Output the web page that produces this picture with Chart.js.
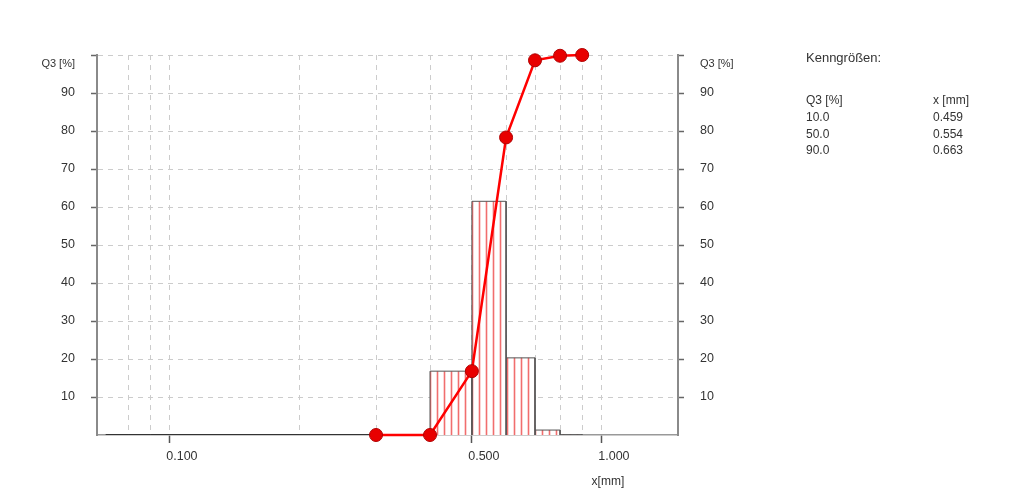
<!DOCTYPE html>
<html><head><meta charset="utf-8">
<script src="https://cdn.jsdelivr.net/npm/chart.js@4/dist/chart.umd.min.js"></script>
<style>html,body{margin:0;padding:0;background:#fff;overflow:hidden}#wrap{width:1020px;height:503px;position:relative}</style>
</head><body><div id="wrap"><canvas id="c" width="1020" height="503"></canvas></div>
<script>
// ---- data ----
const binEdges  = [0.071, 0.08, 0.09, 0.1, 0.2, 0.3, 0.4, 0.5, 0.6, 0.7, 0.8, 0.9];
const binValues = [0, 0, 0, 0, 0, 0, 16.8, 61.5, 20.3, 1.3, 0.1];
const cumX  = [0.3, 0.4, 0.5, 0.6, 0.7, 0.8, 0.9];
const cumQ3 = [0, 0, 16.8, 78.3, 98.6, 99.8, 100];
const xGridTicks = [0.08, 0.09, 0.1, 0.2, 0.3, 0.4, 0.5, 0.6, 0.7, 0.8, 0.9, 1.0];
const xLabelValues = [0.1, 0.5, 1.0];
const xLabelTexts  = ['0.100', '0.500', '1.000'];
const yMin = 0, yMax = 100, yStep = 10;
const yAxisTitle = 'Q3 [%]';
const xAxisTitle = 'x[mm]';
const kennTitle = 'Kenngrößen:';
const kennHeader = ['Q3 [%]', 'x [mm]'];
const kennQ3 = ['10.0', '50.0', '90.0'];
const kennX  = ['0.459', '0.554', '0.663'];

const FONT = '"Liberation Sans", Arial, Helvetica, sans-serif';
const TEXT = '#333';

// hatch pattern for histogram bars
const pc = document.createElement('canvas'); pc.width = 7; pc.height = 7;
const pctx = pc.getContext('2d');
pctx.fillStyle = '#fff'; pctx.fillRect(0, 0, 7, 7);
pctx.strokeStyle = 'rgba(238,85,85,0.85)'; pctx.lineWidth = 1.6;
pctx.beginPath(); pctx.moveTo(3.5, 0); pctx.lineTo(3.5, 7); pctx.stroke();
const hatch = document.getElementById('c').getContext('2d').createPattern(pc, 'repeat');

const datasets = [];
datasets.push({
  label: 'Q3', order: 0, clip: false,
  data: cumX.map((x, i) => ({x, y: cumQ3[i]})),
  showLine: true, borderColor: '#f00', borderWidth: 2.5, tension: 0,
  pointRadius: 6.5, pointBackgroundColor: '#e80000', pointBorderColor: '#b00000', pointBorderWidth: 1,
  fill: false
});
for (let i = 0; i < binValues.length; i++) {
  const lo = binEdges[i], hi = binEdges[i + 1], h = binValues[i];
  datasets.push({
    label: 'bin' + i, order: 1,
    data: [{x: lo, y: 0}, {x: lo, y: h}, {x: hi, y: h}, {x: hi, y: 0}],
    showLine: true, borderColor: h > 0 ? '#555' : '#333', borderWidth: h > 0 ? 1 : 2, tension: 0,
    pointRadius: 0, fill: h > 0 ? 'origin' : false, backgroundColor: hatch
  });
}

const textPlugin = {
  id: 'texts',
  afterDraw(chart) {
    const ctx = chart.ctx, xs = chart.scales.x;
    ctx.save();
    ctx.fillStyle = TEXT;
    ctx.font = '12px ' + FONT;
    ctx.textBaseline = 'middle';
    ctx.textAlign = 'center';
    ctx.fillText(xAxisTitle, xs.getPixelForValue(1.0) + 6, 482);
    ctx.textAlign = 'left';
    ctx.font = '13px ' + FONT;
    ctx.fillText(kennTitle, 806, 58);
    ctx.font = '12px ' + FONT;
    ctx.fillText(kennHeader[0], 806, 101);
    ctx.fillText(kennHeader[1], 933, 101);
    for (let i = 0; i < kennQ3.length; i++) {
      ctx.fillText(kennQ3[i], 806, 118 + i * 16.5);
      ctx.fillText(kennX[i], 933, 118 + i * 16.5);
    }
    ctx.restore();
  }
};

const yLabel = v => v === yMax ? ['', yAxisTitle] : (v === yMin ? '' : String(v));
const yFont = c => (c.tick && c.tick.value === yMax) ? {family: FONT, size: 11, lineHeight: 1.6} : {family: FONT, size: 12.5};

new Chart(document.getElementById('c'), {
  type: 'scatter',
  data: {datasets},
  plugins: [textPlugin],
  options: {
    responsive: false, animation: false, devicePixelRatio: 1,
    layout: {padding: {left: 0, top: 55, right: 282, bottom: 0}},
    plugins: {legend: {display: false}, tooltip: {enabled: false}},
    scales: {
      x: {
        type: 'logarithmic', min: 0.0678, max: 1.5, bounds: 'data',
        afterBuildTicks: s => { s.ticks = xGridTicks.map(v => ({value: v})); },
        afterFit: s => { s.height = 68; },
        ticks: {
          autoSkip: false, maxRotation: 0, minRotation: 0, padding: 6, labelOffset: 12,
          color: TEXT, font: {family: FONT, size: 12.5},
          callback: v => { const k = xLabelValues.findIndex(t => Math.abs(t - v) < 1e-9); return k >= 0 ? xLabelTexts[k] : ''; }
        },
        grid: {
          color: '#cccccc', lineWidth: 1, tickLength: 8, tickWidth: 1.5,
          tickColor: c => xLabelValues.some(t => c.tick && Math.abs(t - c.tick.value) < 1e-9) ? '#555' : 'rgba(0,0,0,0)'
        },
        border: {display: true, color: '#999', width: 1.5, dash: [5, 5]}
      },
      y: {
        type: 'linear', position: 'left', min: yMin, max: yMax,
        afterFit: s => { s.width = 97; },
        ticks: {stepSize: yStep, autoSkip: false, padding: 16, color: TEXT, font: yFont, callback: yLabel},
        grid: {
          color: c => (c.tick && c.tick.value === yMin) ? 'rgba(0,0,0,0)' : '#cccccc',
          tickColor: c => (c.tick && c.tick.value === yMin) ? 'rgba(0,0,0,0)' : '#666',
          tickLength: 6, tickWidth: 1.5
        },
        border: {display: true, color: '#8a8a8a', width: 2, dash: [5, 5]}
      },
      y2: {
        type: 'linear', position: 'right', min: yMin, max: yMax,
        afterFit: s => { s.width = 60; },
        ticks: {stepSize: yStep, autoSkip: false, padding: 16, color: TEXT, font: yFont, callback: yLabel},
        grid: {
          drawOnChartArea: false,
          tickColor: c => (c.tick && c.tick.value === yMin) ? 'rgba(0,0,0,0)' : '#666',
          tickLength: 6, tickWidth: 1.5
        },
        border: {display: true, color: '#8a8a8a', width: 2}
      }
    }
  }
});
</script>
</body></html>
